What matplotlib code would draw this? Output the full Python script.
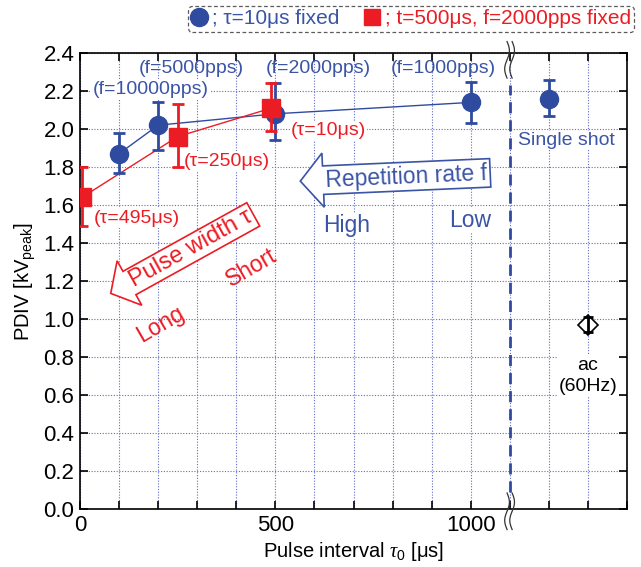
import numpy as np
import matplotlib
matplotlib.use('Agg')
import matplotlib.pyplot as plt
from matplotlib.lines import Line2D
from matplotlib.path import Path
import matplotlib.transforms as mtransforms

plt.rcParams['font.family'] = ['Liberation Sans', 'DejaVu Sans']
plt.rcParams['mathtext.fontset'] = 'custom'
plt.rcParams['mathtext.rm'] = 'Liberation Sans'
plt.rcParams['mathtext.it'] = 'Liberation Serif:italic'

# --- data ---
# repetition rate series, tau = 10 us fixed
rep_x = [100, 200, 500, 1000]
rep_y = [1.87, 2.02, 2.08, 2.14]
rep_lo = [1.77, 1.89, 1.94, 2.03]
rep_hi = [1.98, 2.14, 2.24, 2.25]
rep_labels = ['(f=10000pps)', '(f=5000pps)', '(f=2000pps)', '(f=1000pps)']

# single shot
single_x = [1200]
single_y = [2.16]
single_lo = [2.07]
single_hi = [2.26]

# pulse width series, t = 500 us, f = 2000 pps fixed
pw_x = [5, 250, 490]
pw_y = [1.64, 1.96, 2.11]
pw_lo = [1.49, 1.80, 1.99]
pw_hi = [1.80, 2.13, 2.24]
pw_labels = ['(τ=495μs)', '(τ=250μs)', '(τ=10μs)']

# ac 60 Hz
ac_x = [1300]
ac_y = [0.97]
ac_lo = [0.93]
ac_hi = [1.01]

blue = '#2f4b9f'
tblue = '#3a54a6'
red = '#ec1c24'


class BigLArrow:
    # left arrow box with a wider head than matplotlib's 'larrow'
    def __init__(self, pad=0.15, flare=0.45, head=0.8):
        self.pad, self.flare, self.head = pad, flare, head

    def __call__(self, x0, y0, width, height, mutation_size):
        pad = mutation_size * self.pad
        x0, y0 = x0 - pad, y0 - pad
        x1, y1 = x0 + width + 2 * pad, y0 + height + 2 * pad
        h = y1 - y0
        fl = h * self.flare
        hl = h * self.head
        return Path._create_closed([(x0, y0), (x1, y0), (x1, y1), (x0, y1),
                                    (x0, y1 + fl), (x0 - hl, (y0 + y1) / 2), (x0, y0 - fl)])


fig = plt.figure(figsize=(6.41, 5.67), dpi=100)
ax = fig.add_axes([80/641, 1-509/567, 547/641, 456/567])

def err(y, lo, hi):
    y = np.array(y); return [y - np.array(lo), np.array(hi) - y]

# lines
ax.plot(rep_x, rep_y, color=blue, lw=1, zorder=4)
ax.plot(pw_x, pw_y, color=red, lw=1, zorder=5)

ax.errorbar(rep_x, rep_y, yerr=err(rep_y, rep_lo, rep_hi), fmt='o', color=blue,
            ms=13, elinewidth=2, capsize=4.5, capthick=2, zorder=6)
ax.errorbar(single_x, single_y, yerr=err(single_y, single_lo, single_hi), fmt='o', color=blue,
            ms=13, elinewidth=2, capsize=4.5, capthick=2, zorder=6)
ax.errorbar(pw_x, pw_y, yerr=err(pw_y, pw_lo, pw_hi), fmt='s', color=red,
            ms=13, elinewidth=2, capsize=4.5, capthick=2, zorder=7)
ax.plot(ac_x, ac_y, 'D', mfc='white', mec='black', ms=10, mew=1.2, zorder=6)
ax.errorbar(ac_x, ac_y, yerr=err(ac_y, ac_lo, ac_hi), fmt='none', ecolor='black',
            elinewidth=2, capsize=3.5, capthick=2, zorder=7)

# break line
ax.plot([1100, 1100], [0.09, 2.23], color=blue, lw=2, ls=(0, (4, 2.5)), zorder=3)

ax.set_xlim(0, 1400)
ax.set_ylim(0, 2.4)
ax.set_xticks(np.arange(0, 1401, 100))
ax.set_xticklabels(['0' if v == 0 else str(v) if v in (500, 1000) else '' for v in range(0, 1401, 100)])
ax.set_yticks(np.arange(0, 2.41, 0.2))
ax.set_yticklabels(['%.1f' % v for v in np.arange(0, 2.41, 0.2)])
ax.tick_params(direction='in', length=6, width=1.2, top=True, right=True, labelsize=16, pad=4)
ax.grid(True, ls=(0, (1, 1.5)), color='#5f6dc6', lw=0.8)
ax.set_axisbelow(True)
for s in ax.spines.values():
    s.set_linewidth(1.2)

ax.set_xlabel('Pulse interval $\\tau_0$ [μs]', fontsize=14.5, labelpad=3)
ax.set_ylabel('PDIV [kV$_{\\rm peak}$]', fontsize=14.5, labelpad=4)

box = dict(fc='white', ec='none', pad=1)
# annotations
ax.text(180, 2.21, rep_labels[0], color=tblue, fontsize=14, ha='center', va='center', bbox=box, zorder=3)
ax.text(286, 2.32, rep_labels[1], color=tblue, fontsize=14, ha='center', va='center', zorder=3)
ax.text(610, 2.32, rep_labels[2], color=tblue, fontsize=14, ha='center', va='center', zorder=3)
ax.text(930, 2.32, rep_labels[3], color=tblue, fontsize=14, ha='center', va='center', zorder=3)
ax.text(146, 1.53, pw_labels[0], color=red, fontsize=14, ha='center', va='center', bbox=box, zorder=3)
ax.text(375, 1.83, pw_labels[1], color=red, fontsize=14, ha='center', va='center', bbox=box, zorder=3)
ax.text(636, 1.99, pw_labels[2], color=red, fontsize=14, ha='center', va='center', bbox=box, zorder=3)
ax.text(1244, 1.94, 'Single shot', color=tblue, fontsize=14, ha='center', va='center', bbox=box, zorder=3)
ax.text(1300, 0.70, 'ac\n(60Hz)', color='black', fontsize=14, ha='center', va='center',
        linespacing=1.35, bbox=box, zorder=3)

ax.text(836, 1.75, 'Repetition rate f', color=tblue, fontsize=16.5, ha='center', va='center', rotation=2.5,
        bbox=dict(boxstyle=BigLArrow(pad=0.12), fc='white', ec=tblue, lw=1.2), zorder=5)
ax.text(683, 1.49, 'High', color=tblue, fontsize=16.5, ha='center', va='center', bbox=box, zorder=3)
ax.text(998, 1.52, 'Low', color=tblue, fontsize=16.5, ha='center', va='center', bbox=box, zorder=3)

ax.text(285, 1.37, 'Pulse width τ', color=red, fontsize=17, ha='center', va='center', rotation=29,
        bbox=dict(boxstyle=BigLArrow(pad=0.1), fc='white', ec=red, lw=1.2), zorder=5)
ax.text(205, 0.97, 'Long', color=red, fontsize=16.5, ha='center', va='center', rotation=30, zorder=5)
ax.text(440, 1.27, 'Short', color=red, fontsize=16.5, ha='center', va='center', rotation=30, zorder=5)

# axis break marks
tr = mtransforms.blended_transform_factory(ax.transData, ax.transAxes)
for y0, y1 in [(1.025, 0.945), (0.035, -0.045)]:
    yy = np.linspace(y0, y1, 40)
    wig = 6 * np.sin(np.linspace(0, 2 * np.pi, 40))
    for off in (-7, 6):
        ax.plot(1100 + off + wig, yy, color='#333333', lw=0.9, transform=tr, clip_on=False, zorder=8)

# legend
handles = [Line2D([], [], marker='o', color=blue, ls='none', ms=13),
           Line2D([], [], marker='s', color=red, ls='none', ms=12)]
leg = fig.legend(handles, ['; τ=10μs fixed', '; t=500μs, f=2000pps fixed'], loc='center',
                 bbox_to_anchor=(411/641, 1-19/567), ncol=2, fontsize=15, labelcolor=[tblue, red],
                 handlelength=0.8, handletextpad=0.2, columnspacing=1.2, borderpad=0.15,
                 frameon=True, fancybox=True, edgecolor='#333333')
leg.get_frame().set_linestyle((0, (3, 2)))
leg.get_frame().set_linewidth(0.9)

fig.savefig('out.png', dpi=100)
